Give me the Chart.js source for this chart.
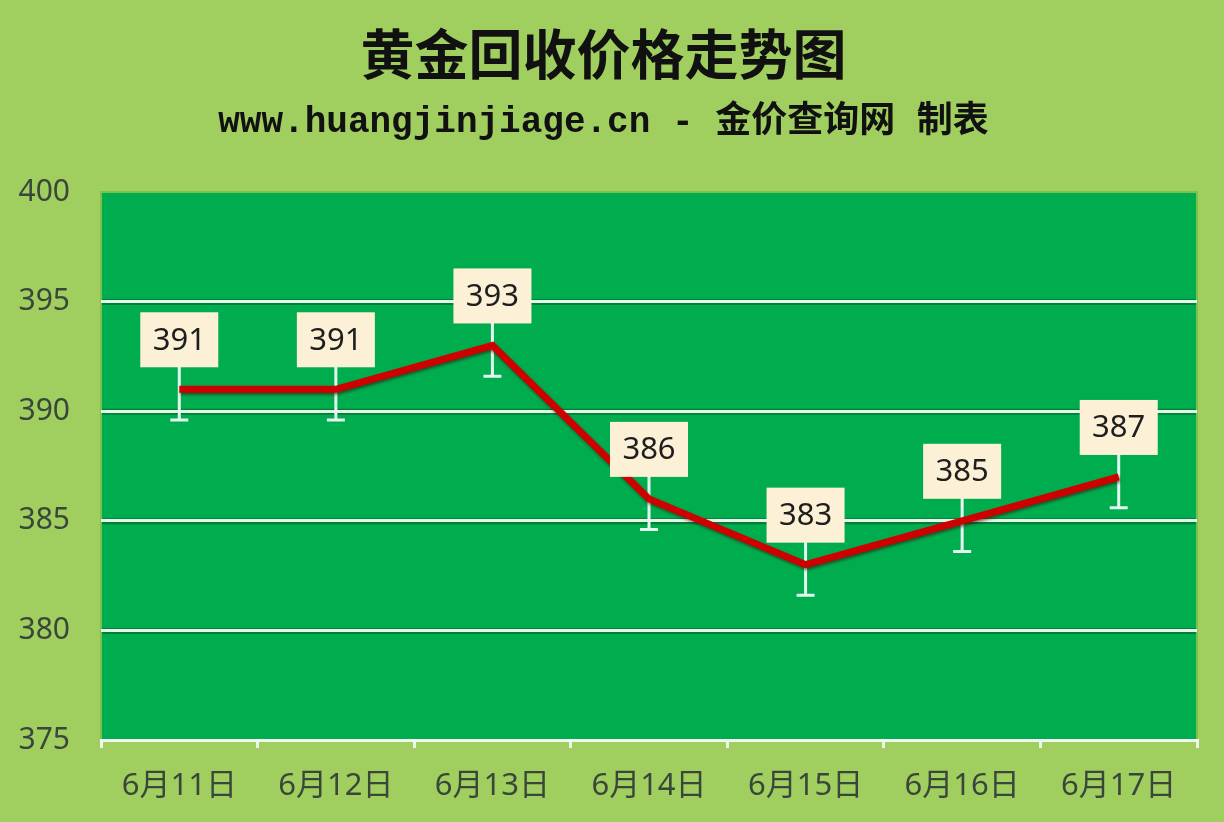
<!DOCTYPE html>
<html>
<head>
<meta charset="utf-8">
<script src="https://cdn.jsdelivr.net/npm/chart.js@4.4.1/dist/chart.umd.min.js"></script>
<style>
  html, body { margin: 0; padding: 0; background: #a0cf60; }
  #wrap { width: 1224px; height: 822px; }
</style>
</head>
<body>
<div id="wrap"><canvas id="myChart" width="1224" height="822"></canvas></div>
<script>
// chart data
var days = ['6月11日', '6月12日', '6月13日', '6月14日', '6月15日', '6月16日', '6月17日'];
var prices = [391, 391, 393, 386, 383, 385, 387];
var errorSize = 1.4;          // error bar (+/-) shown under each point
var yMin = 375, yMax = 400, yStep = 5;

var titleText = '黄金回收价格走势图';
var subText = 'www.huangjinjiage.cn - 金价查询网 制表';

var tickFont = '"Noto Sans", "Noto Sans CJK SC", sans-serif';

// green plot area + border + soft shadow under grid lines
var plotBg = {
  id: 'plotBg',
  beforeDraw: function (chart) {
    var a = chart.chartArea, ctx = chart.ctx, y = chart.scales.y;
    ctx.save();
    ctx.fillStyle = '#00ad4e';
    ctx.fillRect(a.left, a.top, a.right - a.left, a.bottom - a.top);
    ctx.strokeStyle = '#7cc24a';
    ctx.lineWidth = 2;
    ctx.strokeRect(a.left, a.top, a.right - a.left, a.bottom - a.top);
    ctx.strokeStyle = 'rgba(0,70,25,0.45)';
    ctx.lineWidth = 6;
    y.ticks.forEach(function (t) {
      if (t.value === yMin || t.value === yMax) return;
      var py = y.getPixelForValue(t.value);
      ctx.beginPath();
      ctx.moveTo(a.left + 1, py + 0.5);
      ctx.lineTo(a.right - 1, py + 0.5);
      ctx.stroke();
    });
    ctx.restore();
  }
};

// error bars behind the line, label boxes on top
var marks = {
  id: 'marks',
  beforeDatasetsDraw: function (chart) {
    var ctx = chart.ctx, y = chart.scales.y;
    var meta = chart.getDatasetMeta(0);
    ctx.save();
    ctx.strokeStyle = '#e4f6f0';
    ctx.lineWidth = 3;
    meta.data.forEach(function (pt, i) {
      var yLo = y.getPixelForValue(prices[i] - errorSize);
      var yHi = y.getPixelForValue(prices[i] + errorSize);
      ctx.beginPath();
      ctx.moveTo(pt.x, yHi);
      ctx.lineTo(pt.x, yLo);
      ctx.moveTo(pt.x - 9, yLo);
      ctx.lineTo(pt.x + 9, yLo);
      ctx.stroke();
    });
    ctx.restore();
  },
  beforeDatasetDraw: function (chart) {
    var ctx = chart.ctx;
    ctx.save();
    ctx.shadowColor = 'rgba(60,0,0,0.55)';
    ctx.shadowBlur = 3;
    ctx.shadowOffsetX = 1;
    ctx.shadowOffsetY = 2;
  },
  afterDatasetDraw: function (chart) {
    chart.ctx.restore();
  },
  afterDatasetsDraw: function (chart) {
    var ctx = chart.ctx;
    var meta = chart.getDatasetMeta(0);
    ctx.save();
    ctx.font = '31px ' + tickFont;
    ctx.textAlign = 'center';
    ctx.textBaseline = 'middle';
    meta.data.forEach(function (pt, i) {
      var w = 78, h = 55;
      var bottom = pt.y - 22;
      ctx.fillStyle = '#fcf1d6';
      ctx.fillRect(pt.x - w / 2, bottom - h, w, h);
      ctx.fillStyle = '#1e1e1e';
      ctx.fillText(String(prices[i]), pt.x, bottom - h / 2 + 1);
    });
    ctx.restore();
  }
};

var ctx = document.getElementById('myChart').getContext('2d');
var myChart = new Chart(ctx, {
  type: 'line',
  data: {
    labels: days,
    datasets: [{
      label: '价格',
      data: prices,
      borderColor: '#cf0000',
      borderWidth: 7,
      pointRadius: 0,
      tension: 0,
      fill: false
    }]
  },
  options: {
    responsive: false,
    animation: false,
    devicePixelRatio: 1,
    layout: { padding: { top: 22, left: 10, right: 27, bottom: 4 } },
    plugins: {
      legend: { display: false },
      tooltip: { enabled: false },
      title: {
        display: true,
        text: titleText,
        color: '#111',
        font: { family: '"Noto Sans CJK SC", serif', size: 54, weight: 'bold' },
        padding: { top: 0, bottom: 0 }
      },
      subtitle: {
        display: true,
        text: subText,
        color: '#111',
        font: { family: '"Liberation Mono", "Noto Sans CJK SC", monospace', size: 36, weight: 'bold' },
        padding: { top: 15, bottom: 47 }
      }
    },
    scales: {
      x: {
        offset: true,
        afterFit: function (scale) { scale.height = 78; },
        grid: {
          offset: true,
          drawOnChartArea: false,
          drawTicks: true,
          tickLength: 8,
          color: '#eef8ee',
          lineWidth: 3
        },
        border: { display: true, color: '#eef8ee', width: 3 },
        ticks: {
          color: '#3b463b',
          font: { family: tickFont, size: 31 },
          padding: 20,
          maxRotation: 0
        }
      },
      y: {
        min: yMin,
        max: yMax,
        afterFit: function (scale) { scale.width = 91; },
        ticks: {
          stepSize: yStep,
          color: '#3b463b',
          font: { family: tickFont, size: 30 },
          padding: 31
        },
        grid: {
          drawTicks: false,
          lineWidth: 3,
          color: function (c) {
            var v = c.tick ? c.tick.value : null;
            return (v === yMax || v === yMin) ? 'rgba(0,0,0,0)' : '#e6f6ea';
          }
        },
        border: { display: false }
      }
    }
  },
  plugins: [plotBg, marks]
});
</script>
</body>
</html>
